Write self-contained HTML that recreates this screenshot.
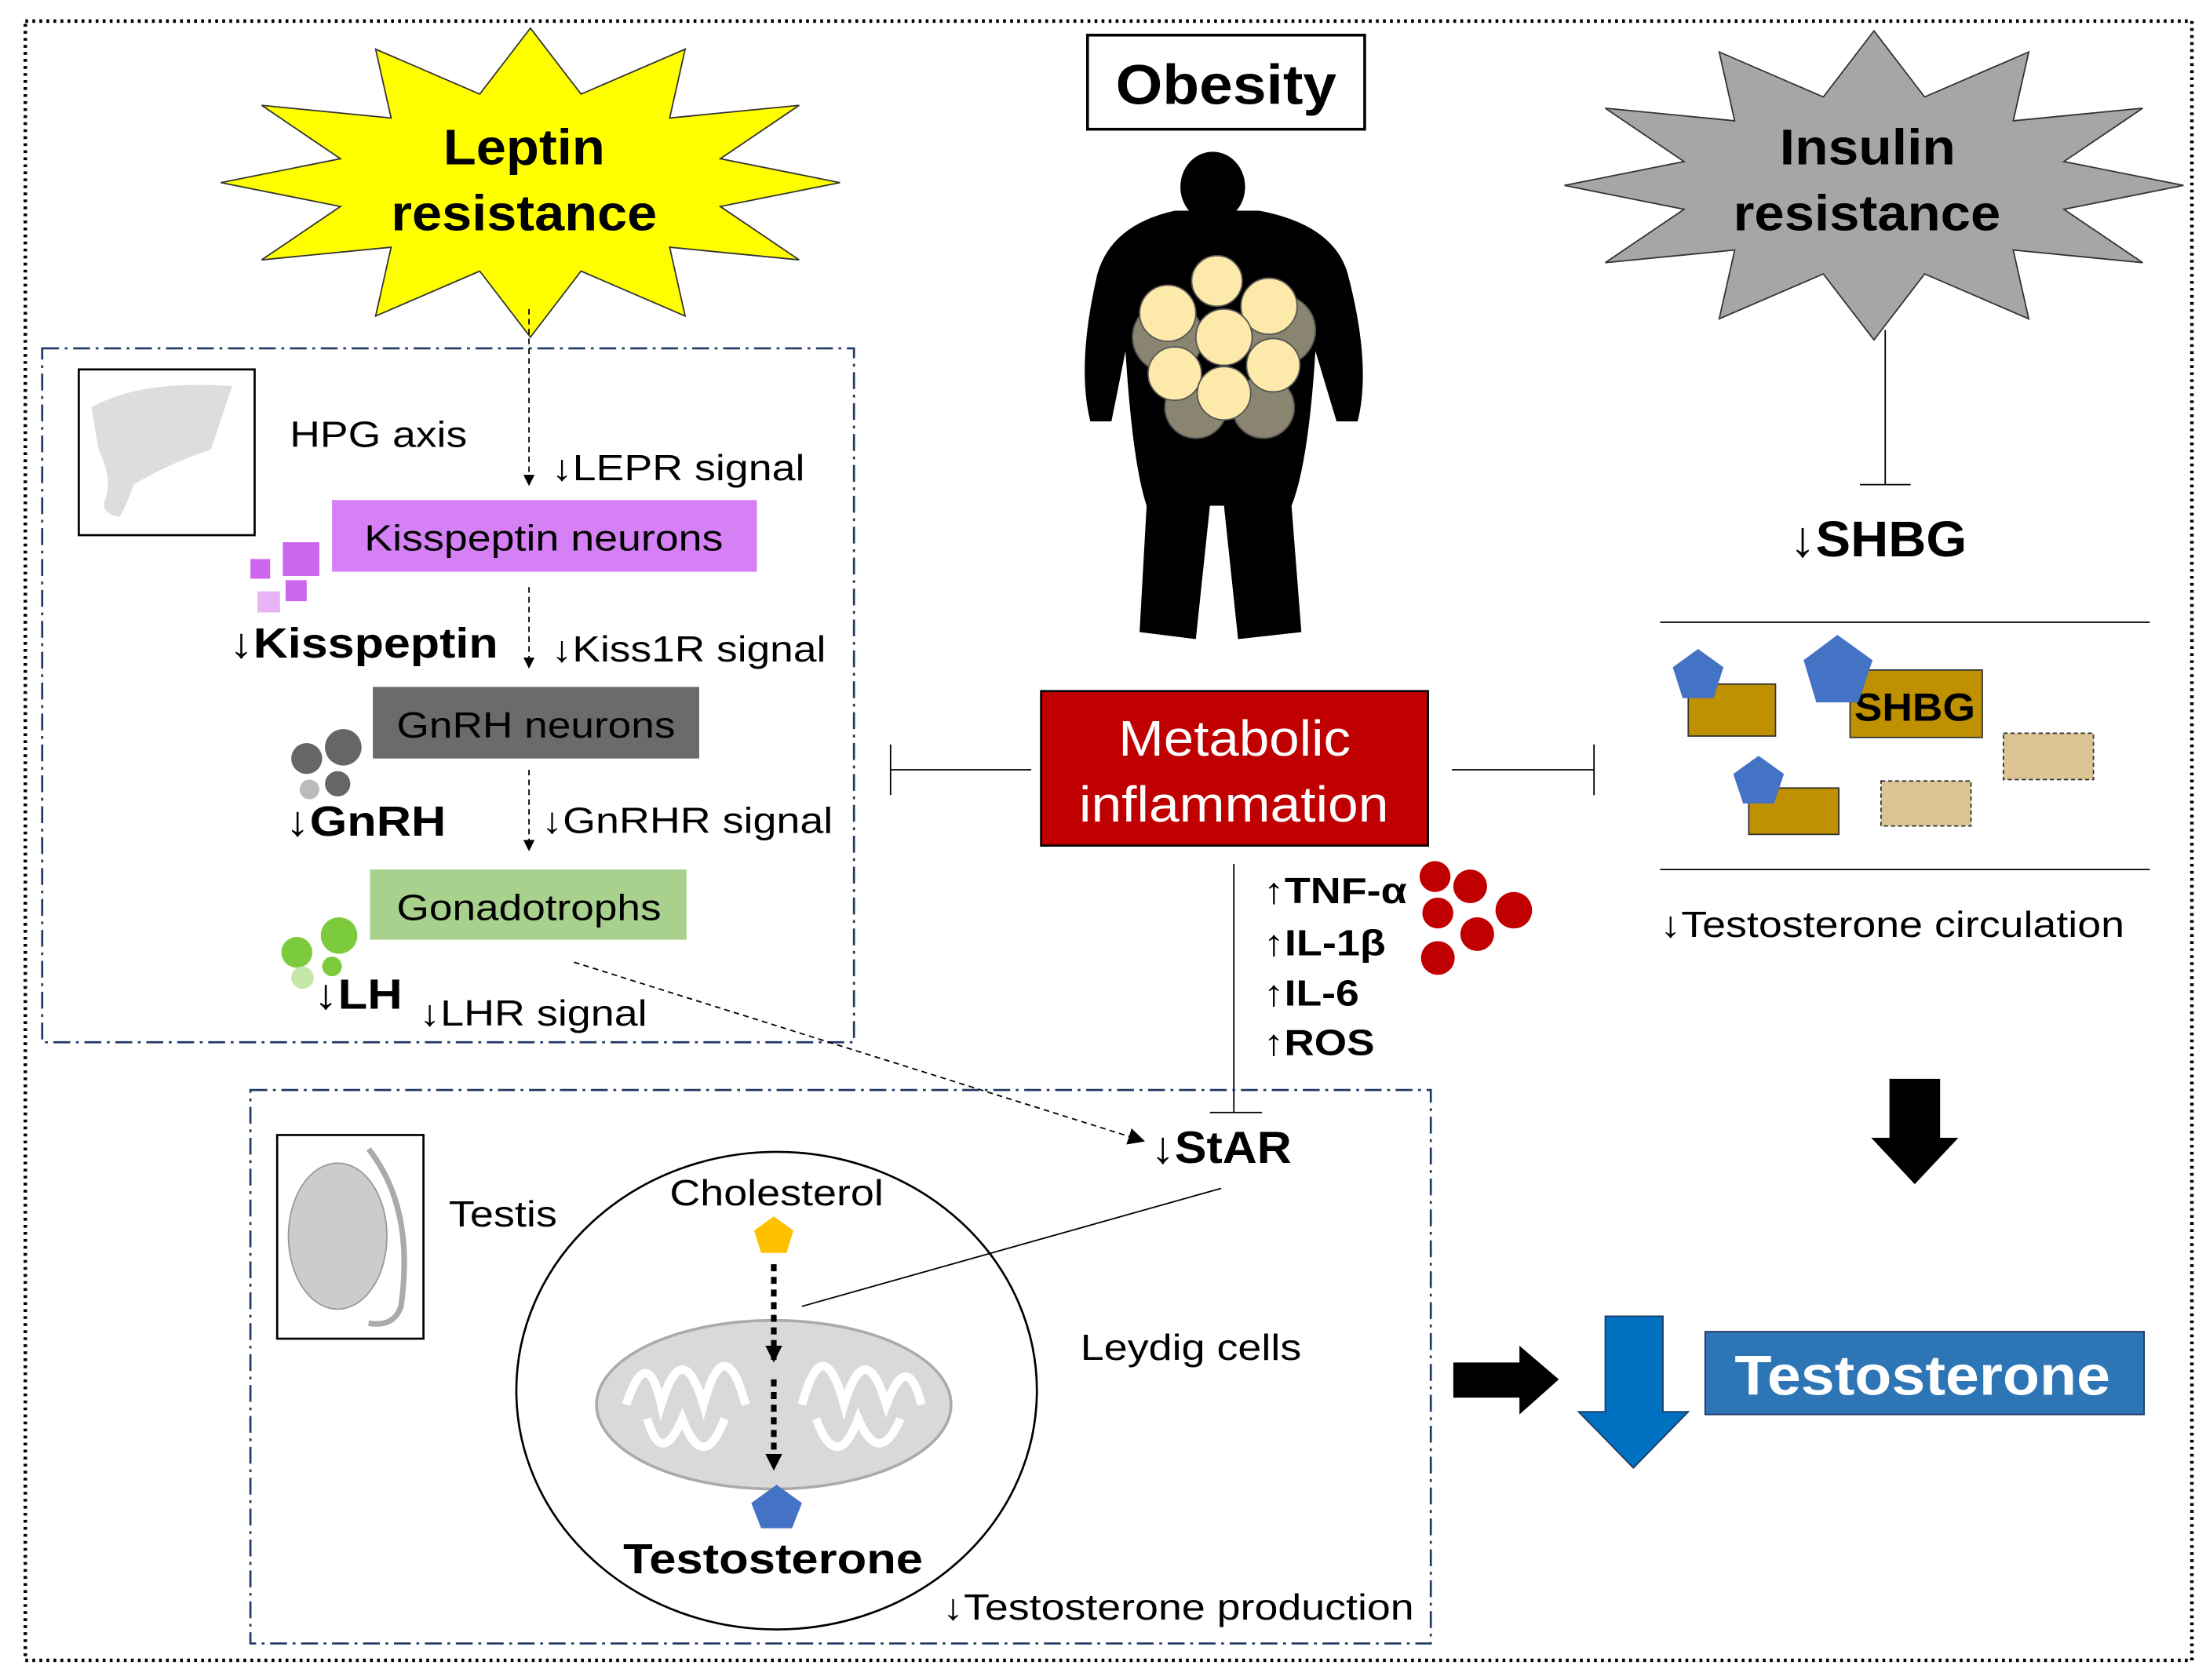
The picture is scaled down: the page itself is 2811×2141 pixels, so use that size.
<!DOCTYPE html>
<html><head><meta charset="utf-8"><style>
html,body{margin:0;padding:0;background:#fff}
svg{display:block}
text{font-family:"Liberation Sans",Arial,sans-serif;fill:#000}
.b{font-weight:bold}
</style></head><body>
<svg width="2811" height="2141" viewBox="0 0 1568 1196" preserveAspectRatio="none" xmlns="http://www.w3.org/2000/svg">
<defs>
<marker id="ah" markerWidth="8" markerHeight="8" refX="7" refY="4" orient="auto" markerUnits="userSpaceOnUse"><path d="M0,0 L8,4 L0,8 z" fill="#000"/></marker>
<marker id="ah2" markerWidth="12" markerHeight="12" refX="10" refY="6" orient="auto" markerUnits="userSpaceOnUse"><path d="M0,0 L12,6 L0,12 z" fill="#000"/></marker>
</defs>
<rect x="0" y="0" width="1568" height="1196" fill="#fff"/>
<rect x="18" y="15" width="1540" height="1167" fill="none" stroke="#000" stroke-width="2.5" stroke-dasharray="2,3"/>

<polygon fill="#ffff00" stroke="#333" stroke-width="1" points="597,130 512,147 568,185 476,176 487,225 413,193 377,240 341,193 267,225 278,176 186,185 242,147 157,130 242,113 186,75 278,84 267,35 341,67 377,20 413,67 487,35 476,84 568,75 512,113"/>
<text x="315" y="117" font-size="36" class="b" textLength="115" lengthAdjust="spacingAndGlyphs">Leptin</text>
<text x="278" y="164" font-size="36" class="b" textLength="189" lengthAdjust="spacingAndGlyphs">resistance</text>

<polygon fill="#a6a6a6" stroke="#333" stroke-width="1" points="1552,132 1467,149 1523,187 1431,178 1442,227 1368,195 1332,242 1296,195 1222,227 1233,178 1141,187 1197,149 1112,132 1197,115 1141,77 1233,86 1222,37 1296,69 1332,22 1368,69 1442,37 1431,86 1523,77 1467,115"/>
<text x="1265" y="117" font-size="36" class="b" textLength="125" lengthAdjust="spacingAndGlyphs">Insulin</text>
<text x="1232" y="164" font-size="36" class="b" textLength="190" lengthAdjust="spacingAndGlyphs">resistance</text>

<rect x="773" y="25" width="197" height="67" fill="#fff" stroke="#000" stroke-width="2"/>
<text x="793" y="74" font-size="40" class="b" textLength="157" lengthAdjust="spacingAndGlyphs">Obesity</text>
<g fill="#000">
<ellipse cx="862" cy="133" rx="23" ry="25"/>
<path d="M835,150 Q790,160 780,195 Q765,260 775,300 L790,300 L800,250 Q805,330 815,360 L810,450 L850,455 L860,360 L870,360 L880,455 L925,450 L918,360 Q930,330 935,250 L950,300 L965,300 Q975,260 958,195 Q948,160 895,150 Z"/>
</g>
<g stroke="#555" stroke-width="1">
<circle cx="830" cy="240" r="25" fill="#8a8570"/>
<circle cx="910" cy="235" r="25" fill="#8a8570"/>
<circle cx="850" cy="290" r="22" fill="#8a8570"/>
<circle cx="898" cy="290" r="22" fill="#8a8570"/>
<circle cx="865" cy="200" r="18" fill="#fde9a9"/>
<circle cx="902" cy="218" r="20" fill="#fde9a9"/>
<circle cx="830" cy="223" r="20" fill="#fde9a9"/>
<circle cx="870" cy="240" r="20" fill="#fde9a9"/>
<circle cx="905" cy="260" r="19" fill="#fde9a9"/>
<circle cx="835" cy="266" r="19" fill="#fde9a9"/>
<circle cx="870" cy="280" r="19" fill="#fde9a9"/>
</g>

<rect x="30" y="248" width="577" height="494" fill="none" stroke="#1f3864" stroke-width="1.5" stroke-dasharray="12,4,2,4"/>
<rect x="56" y="263" width="125" height="118" fill="#fff" stroke="#000" stroke-width="1.5"/>
<path d="M65,290 Q100,270 165,275 L150,320 Q120,330 95,345 Q90,360 85,368 Q70,365 75,355 Q80,340 70,320 Z" fill="#ddd"/>
<text x="206" y="318" font-size="26" textLength="126" lengthAdjust="spacingAndGlyphs">HPG axis</text>
<line x1="376" y1="220" x2="376" y2="345" stroke="#000" stroke-width="1" stroke-dasharray="4,3" marker-end="url(#ah)"/>
<text x="392" y="342" font-size="26" textLength="180" lengthAdjust="spacingAndGlyphs">↓LEPR signal</text>
<rect x="236" y="356" width="302" height="51" fill="#d580f5"/>
<text x="259" y="392" font-size="26" textLength="255" lengthAdjust="spacingAndGlyphs">Kisspeptin neurons</text>
<rect x="178" y="398" width="14" height="14" fill="#cc66ee"/>
<rect x="201" y="386" width="26" height="24" fill="#cc66ee"/>
<rect x="183" y="421" width="16" height="15" fill="#e8b4f5"/>
<rect x="203" y="413" width="15" height="15" fill="#cc66ee"/>
<text x="163" y="468" font-size="30" class="b" textLength="191" lengthAdjust="spacingAndGlyphs">↓Kisspeptin</text>
<line x1="376" y1="418" x2="376" y2="475" stroke="#000" stroke-width="1" stroke-dasharray="4,3" marker-end="url(#ah)"/>
<text x="392" y="471" font-size="26" textLength="195" lengthAdjust="spacingAndGlyphs">↓Kiss1R signal</text>
<rect x="265" y="489" width="232" height="51" fill="#6b6b6b"/>
<text x="282" y="525" font-size="26" fill="#111" textLength="198" lengthAdjust="spacingAndGlyphs">GnRH neurons</text>
<circle cx="218" cy="540" r="11" fill="#666"/>
<circle cx="244" cy="532" r="13" fill="#666"/>
<circle cx="240" cy="558" r="9" fill="#666"/>
<circle cx="220" cy="562" r="7" fill="#bbb"/>
<text x="203" y="595" font-size="30" class="b" textLength="114" lengthAdjust="spacingAndGlyphs">↓GnRH</text>
<line x1="376" y1="548" x2="376" y2="605" stroke="#000" stroke-width="1" stroke-dasharray="4,3" marker-end="url(#ah)"/>
<text x="385" y="593" font-size="26" textLength="207" lengthAdjust="spacingAndGlyphs">↓GnRHR signal</text>
<rect x="263" y="619" width="225" height="50" fill="#a9d18e"/>
<text x="282" y="655" font-size="26" textLength="188" lengthAdjust="spacingAndGlyphs">Gonadotrophs</text>
<circle cx="241" cy="666" r="13" fill="#7ccb3c"/>
<circle cx="211" cy="678" r="11" fill="#7ccb3c"/>
<circle cx="236" cy="688" r="7" fill="#7ccb3c"/>
<circle cx="215" cy="696" r="8" fill="#c5e8a8"/>
<text x="223" y="718" font-size="30" class="b" textLength="63" lengthAdjust="spacingAndGlyphs">↓LH</text>
<text x="298" y="730" font-size="26" textLength="162" lengthAdjust="spacingAndGlyphs">↓LHR signal</text>
<line x1="408" y1="685" x2="812" y2="812" stroke="#000" stroke-width="1" stroke-dasharray="4,3" marker-end="url(#ah2)"/>

<rect x="740" y="492" width="275" height="110" fill="#c00000" stroke="#000" stroke-width="1.5"/>
<text x="795" y="538" font-size="36" style="fill:#fff" textLength="165" lengthAdjust="spacingAndGlyphs">Metabolic</text>
<text x="767" y="585" font-size="36" style="fill:#fff" textLength="220" lengthAdjust="spacingAndGlyphs">inflammation</text>
<g stroke="#000" stroke-width="1">
<line x1="633" y1="548" x2="733" y2="548"/><line x1="633" y1="530" x2="633" y2="566"/>
<line x1="1032" y1="548" x2="1133" y2="548"/><line x1="1133" y1="530" x2="1133" y2="566"/>
<line x1="877" y1="615" x2="877" y2="792"/><line x1="860" y1="792" x2="897" y2="792"/>
<line x1="1340" y1="235" x2="1340" y2="345"/><line x1="1322" y1="345" x2="1358" y2="345"/>
<line x1="1180" y1="443" x2="1528" y2="443"/><line x1="1180" y1="619" x2="1528" y2="619"/>
<line x1="868" y1="846" x2="570" y2="930"/>
</g>
<text x="898" y="643" font-size="26" class="b" textLength="102" lengthAdjust="spacingAndGlyphs">↑TNF-α</text>
<text x="898" y="680" font-size="26" class="b" textLength="87" lengthAdjust="spacingAndGlyphs">↑IL-1β</text>
<text x="898" y="716" font-size="26" class="b" textLength="68" lengthAdjust="spacingAndGlyphs">↑IL-6</text>
<text x="898" y="751" font-size="26" class="b" textLength="79" lengthAdjust="spacingAndGlyphs">↑ROS</text>
<g fill="#c00000">
<circle cx="1020" cy="624" r="11"/><circle cx="1045" cy="631" r="12"/><circle cx="1076" cy="648" r="13"/>
<circle cx="1022" cy="650" r="11"/><circle cx="1050" cy="665" r="12"/><circle cx="1022" cy="682" r="12"/>
</g>

<text x="1272" y="396" font-size="36" class="b" textLength="126" lengthAdjust="spacingAndGlyphs">↓SHBG</text>
<rect x="1200" y="487" width="62" height="37" fill="#bf9000" stroke="#333" stroke-width="1"/>
<rect x="1315" y="477" width="94" height="48" fill="#bf9000" stroke="#333" stroke-width="1"/>
<text x="1318" y="513" font-size="28" class="b" textLength="86" lengthAdjust="spacingAndGlyphs">SHBG</text>
<rect x="1243" y="561" width="64" height="33" fill="#bf9000" stroke="#333" stroke-width="1"/>
<rect x="1424" y="522" width="64" height="33" fill="#dcc493" stroke="#333" stroke-width="1" stroke-dasharray="3,2"/>
<rect x="1337" y="556" width="64" height="32" fill="#dcc493" stroke="#333" stroke-width="1" stroke-dasharray="3,2"/>
<polygon fill="#4472c4" points="1207,462 1225,475 1218,497 1196,497 1189,475"/>
<polygon fill="#4472c4" points="1306,452 1331,470 1321,500 1291,500 1282,470"/>
<polygon fill="#4472c4" points="1250,538 1268,551 1261,572 1239,572 1232,551"/>
<text x="1180" y="667" font-size="26" textLength="330" lengthAdjust="spacingAndGlyphs">↓Testosterone circulation</text>
<polygon fill="#000" points="1343,768 1379,768 1379,810 1392,810 1361,843 1330,810 1343,810"/>

<rect x="178" y="776" width="839" height="394" fill="none" stroke="#1f3864" stroke-width="1.5" stroke-dasharray="12,4,2,4"/>
<rect x="197" y="808" width="104" height="145" fill="#fff" stroke="#000" stroke-width="1.5"/>
<ellipse cx="240" cy="880" rx="35" ry="52" fill="#ccc" stroke="#999"/>
<path d="M262,818 Q295,860 285,930 Q280,945 262,942" fill="none" stroke="#aaa" stroke-width="4"/>
<text x="319" y="873" font-size="26" textLength="77" lengthAdjust="spacingAndGlyphs">Testis</text>
<text x="818" y="828" font-size="32" class="b" textLength="100" lengthAdjust="spacingAndGlyphs">↓StAR</text>
<ellipse cx="552" cy="990" rx="185" ry="170" fill="none" stroke="#000" stroke-width="1.5"/>
<text x="476" y="858" font-size="26" textLength="152" lengthAdjust="spacingAndGlyphs">Cholesterol</text>
<polygon fill="#ffc000" points="550,866 564,876 559,892 541,892 536,876"/>
<ellipse cx="550" cy="1000" rx="126" ry="60" fill="#d9d9d9" stroke="#aaa" stroke-width="2"/>
<path d="M445,1000 Q460,955 470,1000 Q485,950 500,1000 Q515,945 530,1000 M570,1000 Q585,945 600,1000 Q615,950 630,1000 Q645,960 655,1000 M460,1010 Q470,1045 485,1010 Q500,1050 515,1010 M580,1010 Q595,1050 610,1010 Q625,1045 640,1010" fill="none" stroke="#fff" stroke-width="6"/>
<line x1="550" y1="900" x2="550" y2="968" stroke="#000" stroke-width="4" stroke-dasharray="5,4" marker-end="url(#ah2)"/>
<line x1="550" y1="982" x2="550" y2="1045" stroke="#000" stroke-width="4" stroke-dasharray="5,4" marker-end="url(#ah2)"/>
<polygon fill="#4472c4" points="552,1057 570,1070 563,1088 541,1088 534,1070"/>
<text x="443" y="1120" font-size="30" class="b" textLength="213" lengthAdjust="spacingAndGlyphs">Testosterone</text>
<text x="768" y="968" font-size="26" textLength="157" lengthAdjust="spacingAndGlyphs">Leydig cells</text>
<text x="670" y="1153" font-size="26" textLength="335" lengthAdjust="spacingAndGlyphs">↓Testosterone production</text>

<polygon fill="#000" points="1033,970 1080,970 1080,958 1108,982 1080,1007 1080,995 1033,995"/>
<polygon fill="#0070c0" stroke="#1f3864" stroke-width="1" points="1141,937 1182,937 1182,1005 1200,1005 1161,1045 1122,1005 1141,1005"/>
<rect x="1212" y="948" width="312" height="59" fill="#2e75b6" stroke="#1f3864" stroke-width="1"/>
<text x="1233" y="993" font-size="40" class="b" style="fill:#fff" textLength="267" lengthAdjust="spacingAndGlyphs">Testosterone</text>
</svg>
</body></html>
